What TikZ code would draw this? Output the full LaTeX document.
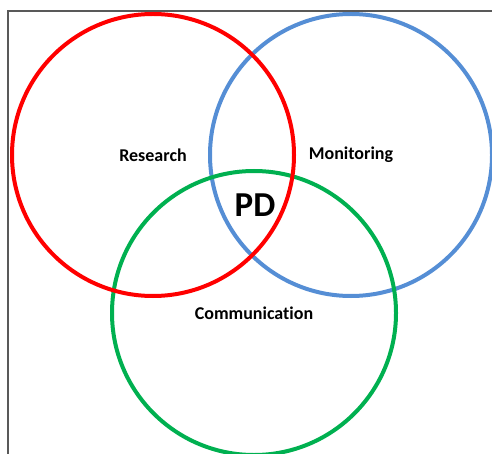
\documentclass[tikz,border=0pt]{standalone}
\usepackage{fontspec}
\setmainfont{Carlito}[Ligatures=NoCommon]
\usetikzlibrary{positioning}

\definecolor{ringred}{HTML}{FF0000}
\definecolor{ringblue}{HTML}{558ED5}
\definecolor{ringgreen}{HTML}{00B050}
\definecolor{framegray}{HTML}{595959}

\begin{document}
\begin{tikzpicture}[
	x=1pt, y=-1pt,
	every node/.style={font=\fontsize{18}{20}\selectfont\bfseries},
	ring/.style={draw, circle, line width=4pt, minimum size=282pt, inner sep=0pt},
	core/.style={font=\fontsize{35}{38}\selectfont\bfseries}
	]
	
	\useasboundingbox (0,0) rectangle (492,454);
	\draw[framegray, line width=1.5pt] (8,454) |- (492,11);
	
	\node[ring, ringblue, text=black] (Mon) at (351,155) {Monitoring};
	\node[ring, ringgreen, text=black, minimum size=284pt] (Com) at (254,313) {Communication};
	\node[ring, ringred, text=black] (Res) at (153,155) {Research};
	
	\node[core] (PD) at (255,205) {PD};
	
\end{tikzpicture}
\end{document}
